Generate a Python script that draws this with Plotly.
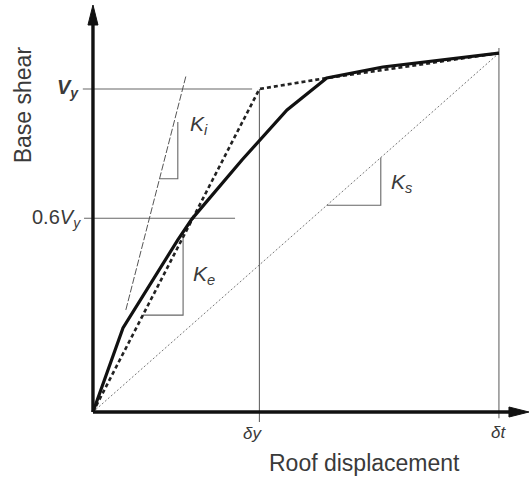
import plotly.graph_objects as go

# Pushover capacity curve (displacement normalised by target displacement δt,
# base shear normalised by yield shear Vy)
roof_disp = [0.0, 0.074, 0.209, 0.244, 0.367, 0.478, 0.576, 0.714, 1.0]
base_shear = [0.0, 0.260, 0.533, 0.598, 0.780, 0.935, 1.034, 1.068, 1.111]

# Bilinear idealisation of the capacity curve
bilinear_disp = [0.0, 0.41, 0.576, 1.0]
bilinear_shear = [0.0, 1.0, 1.034, 1.111]

# Initial stiffness line Ki
ki_disp = [0.081, 0.229]
ki_shear = [0.316, 1.040]

# Secant stiffness line Ks (origin to target point)
ks_disp = [0.0, 1.0]
ks_shear = [0.0, 1.111]

delta_y = 0.41
delta_t = 1.0
v_y = 1.0
v_06 = 0.6

W, H = 531, 479
X_RANGE = [-0.229, 1.079]
Y_RANGE = [-0.2074, 1.2755]
px_x = (X_RANGE[1] - X_RANGE[0]) / W
px_y = (Y_RANGE[1] - Y_RANGE[0]) / H

GREY = "#666666"
TEXT = "#3a3a3a"
FONT = "Liberation Sans, Arial, sans-serif"

fig = go.Figure()


def line(xs, ys, color=GREY, width=1.1, dash="solid"):
    fig.add_trace(go.Scatter(x=xs, y=ys, mode="lines", hoverinfo="skip",
                             line=dict(color=color, width=width, dash=dash)))


def on_line(xs, ys, x):
    return ys[0] + (ys[1] - ys[0]) / (xs[1] - xs[0]) * (x - xs[0])


# reference lines for Vy, 0.6Vy, δy, δt
line([-0.025, 0.392], [v_y, v_y])
line([-0.022, 0.350], [v_06, v_06])
line([delta_y, delta_y], [v_y, -0.031])
line([delta_t, delta_t], [1.127, -0.019])

# secant stiffness line
line(ks_disp, ks_shear, color="#777777", width=1.0, dash="2px,2px")
# initial stiffness line
line(ki_disp, ki_shear, color="#555555", width=1.0, dash="7px,2px")

# slope triangles
def triangle(xs, ys, x0, x1, top=None):
    y0 = on_line(xs, ys, x0)
    y1 = on_line(xs, ys, x1) if top is None else top
    line([x0, x1, x1], [y0, y0, y1])

triangle(ki_disp, ki_shear, 0.164, 0.209, top=0.898)
triangle(bilinear_disp[:2], bilinear_shear[:2], 0.123, 0.222)
triangle(ks_disp, ks_shear, 0.576, 0.709)

# bilinear idealisation
fig.add_trace(go.Scatter(x=bilinear_disp, y=bilinear_shear, mode="lines",
                         hoverinfo="skip",
                         line=dict(color="#222222", width=2.6, dash="4px,3px")))
# capacity curve
fig.add_trace(go.Scatter(x=roof_disp, y=base_shear, mode="lines",
                         hoverinfo="skip",
                         line=dict(color="#111111", width=3.2)))

# axes with arrowheads
x_tip = 1.074
y_tip = 1.26
head_len, head_half = 20, 5
line([0, x_tip - head_len * px_x * 0.7], [0, 0], color="#111111", width=3.4)
line([0, 0], [0, y_tip - head_len * px_y * 0.7], color="#111111", width=3.4)
fig.add_trace(go.Scatter(
    x=[x_tip, x_tip - head_len * px_x, x_tip - head_len * px_x, x_tip],
    y=[0, head_half * px_y, -head_half * px_y, 0],
    mode="lines", fill="toself", fillcolor="#111111",
    line=dict(color="#111111", width=1), hoverinfo="skip"))
fig.add_trace(go.Scatter(
    x=[0, head_half * px_x, -head_half * px_x, 0],
    y=[y_tip, y_tip - head_len * px_y, y_tip - head_len * px_y, y_tip],
    mode="lines", fill="toself", fillcolor="#111111",
    line=dict(color="#111111", width=1), hoverinfo="skip"))


def label(x, y, text, size, xanchor="center", angle=0):
    fig.add_annotation(x=x, y=y, text=text, showarrow=False, xanchor=xanchor,
                       yanchor="middle", textangle=angle,
                       font=dict(family=FONT, size=size, color=TEXT))


label(-0.030, v_y, "<b><i>V<sub>y</sub></i></b>", 20, xanchor="right")
label(-0.025, v_06, "0.6<i>V<sub>y</sub></i>", 20, xanchor="right")
label(0.394, -0.065, "<i>δy</i>", 17)
label(0.998, -0.062, "<i>δt</i>", 17)
label(0.262, 0.889, "<i>K<sub>i</sub></i>", 21)
label(0.274, 0.424, "<i>K<sub>e</sub></i>", 21)
label(0.760, 0.709, "<i>K<sub>s</sub></i>", 21)
label(0.670, -0.158, "Roof displacement", 23)
label(-0.172, 0.950, "Base shear", 23, angle=-90)

fig.update_layout(
    width=W, height=H,
    margin=dict(l=0, r=0, t=0, b=0),
    paper_bgcolor="white", plot_bgcolor="white",
    showlegend=False,
    xaxis=dict(range=X_RANGE, visible=False, fixedrange=True),
    yaxis=dict(range=Y_RANGE, visible=False, fixedrange=True),
)

fig.write_html("out.html")
